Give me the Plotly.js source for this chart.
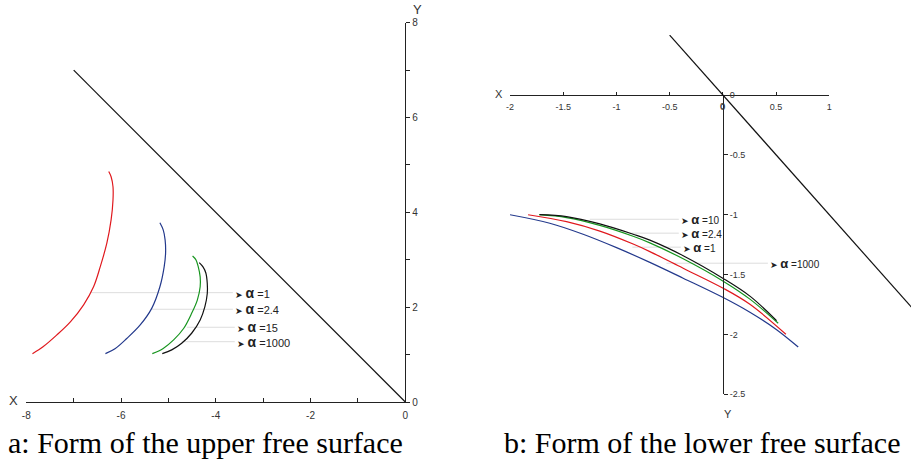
<!DOCTYPE html>
<html>
<head>
<meta charset="utf-8">
<script src="https://cdn.plot.ly/plotly-3.0.1.min.js"></script>
<style>html,body{margin:0;padding:0;background:#fff;}#chart{width:911px;height:466px;}</style>
</head>
<body>
<div id="chart"></div>
<script>
// ---------- Panel a: upper free surface ----------
const aRedX   = [-7.87,-7.64,-7.36,-7.07,-6.79,-6.58,-6.44,-6.30,-6.21,-6.17,-6.17,-6.21,-6.26];
const aRedY   = [1.02,1.17,1.41,1.69,2.05,2.43,2.85,3.35,3.84,4.26,4.54,4.75,4.86];
const aBlueX  = [-6.33,-6.12,-5.88,-5.60,-5.35,-5.18,-5.09,-5.06,-5.07,-5.11,-5.18];
const aBlueY  = [1.02,1.13,1.34,1.62,1.98,2.43,2.85,3.14,3.42,3.63,3.78];
const aGreenX = [-5.34,-5.11,-4.89,-4.68,-4.51,-4.39,-4.33,-4.33,-4.37,-4.42,-4.49];
const aGreenY = [1.02,1.13,1.31,1.55,1.87,2.15,2.43,2.64,2.85,3.00,3.08];
const aBlackX = [-5.13,-4.93,-4.72,-4.51,-4.33,-4.23,-4.18,-4.18,-4.21,-4.27,-4.35];
const aBlackY = [1.02,1.10,1.24,1.45,1.73,2.01,2.29,2.50,2.72,2.85,2.94];
const aWallX  = [-7, 0];
const aWallY  = [7, 0];
const aLabelText   = ['=1', '=2.4', '=15', '=1000'];
const aLabelY      = [2.306, 1.956, 1.576, 1.272];
const aLeaderStart = [-6.65, -5.35, -4.61, -4.72];
const aLeaderEnd   = [-3.64, -3.64, -3.60, -3.60];
const aXTickVals = [-8, -6, -4, -2, 0];
const aXTickText = ['-8', '-6', '-4', '-2', '0'];
const aXMinor    = [-7, -5, -3, -1];
const aYTickVals = [0, 2, 4, 6, 8];
const aYTickText = ['0', '2', '4', '6', '8'];
const aYMinor    = [1, 3, 5, 7];

// ---------- Panel b: lower free surface ----------
const bBlueX  = [-2.00,-1.626,-1.313,-0.999,-0.686,-0.373,0.003,0.254,0.505,0.708];
const bBlueY  = [-1.00,-1.071,-1.163,-1.275,-1.398,-1.530,-1.692,-1.815,-1.960,-2.105];
const bRedX   = [-1.83,-1.469,-1.156,-0.843,-0.686,-0.373,0.003,0.254,0.592];
const bRedY   = [-1.00,-1.058,-1.137,-1.245,-1.308,-1.447,-1.614,-1.748,-1.998];
const bGreenX = [-1.727,-1.469,-1.156,-0.843,-0.686,-0.373,0.003,0.254,0.520];
const bGreenY = [-1.00,-1.024,-1.089,-1.180,-1.235,-1.368,-1.555,-1.705,-1.906];
const bBlackX = [-1.72,-1.469,-1.156,-0.843,-0.686,-0.373,0.003,0.254,0.505];
const bBlackY = [-1.00,-1.016,-1.077,-1.163,-1.212,-1.342,-1.532,-1.680,-1.885];
const bWallX  = [-0.5, 2];
const bWallY  = [0.5, -2];
const bLabelText   = ['=10', '=2.4', '=1', '=1000'];
const bLabelY      = [-1.038, -1.154, -1.271, -1.405];
const bLeaderStart = [-1.25, -0.87, -0.85, -0.53];
const bLeaderEnd   = [-0.414, -0.414, -0.395, 0.423];
const bXTickVals = [-2, -1.5, -1, -0.5, 0, 0.5, 1];
const bXTickText = ['-2', '-1.5', '-1', '-0.5', '0', '0.5', '1'];
const bYTickVals = [-2.5, -2, -1.5, -1, -0.5, 0];
const bYTickText = ['-2.5', '-2', '-1.5', '-1', '-0.5', '0'];

const captionA = 'a: Form of the upper free surface';
const captionB = 'b: Form of the lower free surface';

// ---------- styles ----------
const RED = '#e0191e', BLUE = '#23398c', GREEN = '#17951f', BLACK = '#111111', LEAD = '#dddddd';
const SANS = 'Liberation Sans, Arial, DejaVu Sans, sans-serif';
const W = 911, H = 466;

function curve(x, y, color, xa, ya) {
  return {x: x, y: y, xaxis: xa, yaxis: ya, mode: 'lines', type: 'scatter',
          line: {color: color, width: 1.2, shape: 'spline', smoothing: 1},
          hoverinfo: 'skip', showlegend: false};
}
function leader(x0, x1, y, xa, ya) {
  return {x: [x0, x1], y: [y, y], xaxis: xa, yaxis: ya, mode: 'lines', type: 'scatter',
          line: {color: LEAD, width: 1}, hoverinfo: 'skip', showlegend: false};
}

const traces = [];
aLabelY.forEach((y, i) => traces.push(leader(aLeaderStart[i], aLeaderEnd[i], y, 'x', 'y')));
bLabelY.forEach((y, i) => traces.push(leader(bLeaderStart[i], bLeaderEnd[i], y, 'x2', 'y2')));
traces.push(curve(aWallX, aWallY, BLACK, 'x', 'y'));
traces.push(curve(aRedX, aRedY, RED, 'x', 'y'));
traces.push(curve(aBlueX, aBlueY, BLUE, 'x', 'y'));
traces.push(curve(aGreenX, aGreenY, GREEN, 'x', 'y'));
traces.push(curve(aBlackX, aBlackY, BLACK, 'x', 'y'));
traces.push(curve(bBlueX, bBlueY, BLUE, 'x2', 'y2'));
traces.push(curve(bRedX, bRedY, RED, 'x2', 'y2'));
traces.push(curve(bGreenX, bGreenY, GREEN, 'x2', 'y2'));
traces.push(curve(bBlackX, bBlackY, BLACK, 'x2', 'y2'));
traces.push(curve(bWallX, bWallY, BLACK, 'x3', 'y3'));

function labelAnn(x, y, txt, xa, ya, aSize, tSize) {
  return {x: x, y: y, xref: xa, yref: ya, xanchor: 'left', yanchor: 'middle', showarrow: false,
          xshift: 0,
          text: '<span style="font-size:9px">➤</span> <b><span style="font-size:' + aSize + 'px">α</span></b> ' + txt,
          font: {family: SANS, size: tSize, color: '#222'}};
}

const annotations = [];
aLabelY.forEach((y, i) => annotations.push(labelAnn(aLeaderEnd[i], y, aLabelText[i], 'x', 'y', 14, 11)));
bLabelY.forEach((y, i) => annotations.push(labelAnn(bLeaderEnd[i], y, bLabelText[i], 'x2', 'y2', 13, 10)));

// x tick label "0" of panel b sits on the crossing of both axes; draw it explicitly
const zeroIdx = bXTickVals.indexOf(0);
annotations.push({x: bXTickVals[zeroIdx], y: 0, xref: 'x2', yref: 'y2', xanchor: 'center', yanchor: 'top',
  yshift: -4, showarrow: false, text: bXTickText[zeroIdx], font: {family: SANS, size: 9, color: '#333'}});

function px(xp) { return xp / W; }
function py(yp) { return 1 - yp / H; }
function axLabel(t, xp, yp, size) {
  return {x: px(xp), y: py(yp), xref: 'paper', yref: 'paper', xanchor: 'center', yanchor: 'middle',
          showarrow: false, text: t, font: {family: SANS, size: size, color: '#333'}};
}
annotations.push(axLabel('X', 13, 400, 13));
annotations.push(axLabel('Y', 417, 10, 13));
annotations.push(axLabel('X', 499, 94, 11));
annotations.push(axLabel('Y', 728, 414, 11));
annotations.push({x: px(205), y: py(442), xref: 'paper', yref: 'paper', xanchor: 'center', yanchor: 'middle',
  showarrow: false, text: captionA, font: {family: 'Liberation Serif, Times New Roman, serif', size: 30, color: '#000'}});
annotations.push({x: px(702), y: py(442), xref: 'paper', yref: 'paper', xanchor: 'center', yanchor: 'middle',
  showarrow: false, text: captionB, font: {family: 'Liberation Serif, Times New Roman, serif', size: 30, color: '#000'}});

const axBase = {showgrid: false, zeroline: false, showline: true, linecolor: '#222', linewidth: 1,
  tickcolor: '#222', tickwidth: 1, fixedrange: true, tickmode: 'array'};

const layout = {
  width: W, height: H, margin: {l: 0, r: 0, t: 0, b: 0}, paper_bgcolor: '#fff', plot_bgcolor: 'rgba(0,0,0,0)',
  showlegend: false, hovermode: false,
  xaxis: Object.assign({}, axBase, {domain: [px(26.3), px(405.3)], range: [-8, 0], anchor: 'y',
    tickvals: aXTickVals, ticktext: aXTickText, ticks: 'inside', ticklen: 4, ticklabelstandoff: 4,
    minor: {tickmode: 'array', tickvals: aXMinor, ticks: 'inside', ticklen: 4, tickcolor: '#222', showgrid: false},
    tickfont: {family: SANS, size: 10, color: '#333'}}),
  yaxis: Object.assign({}, axBase, {domain: [py(402), py(22.7)], range: [0, 8], anchor: 'x', side: 'right',
    tickvals: aYTickVals, ticktext: aYTickText, ticks: 'outside', ticklen: 4,
    minor: {tickmode: 'array', tickvals: aYMinor, ticks: 'outside', ticklen: 4, tickcolor: '#222', showgrid: false},
    tickfont: {family: SANS, size: 10, color: '#333'}}),
  xaxis2: Object.assign({}, axBase, {domain: [px(510), px(829.3)], range: [-2, 1], anchor: 'free',
    position: py(95), side: 'bottom', ticklabelstandoff: 3,
    tickvals: bXTickVals, ticktext: bXTickText, ticks: 'inside', ticklen: 3,
    tickfont: {family: SANS, size: 9, color: '#333'}}),
  yaxis2: Object.assign({}, axBase, {domain: [py(394.3), py(95)], range: [-2.5, 0], anchor: 'free',
    position: px(723), side: 'right',
    tickvals: bYTickVals, ticktext: bYTickText, ticks: 'outside', ticklen: 4,
    tickfont: {family: SANS, size: 9, color: '#333'}}),
  xaxis3: {domain: [px(510), 1], range: [-2, -2 + (911 - 510) / ((829.3 - 510) / 3)], anchor: 'y3',
    visible: false, fixedrange: true},
  yaxis3: {domain: [py(394.3), py(35)], range: [-2.5, -2.5 + (394.3 - 35) / ((394.3 - 95) / 2.5)], anchor: 'x3',
    visible: false, fixedrange: true},
  annotations: annotations
};

Plotly.newPlot('chart', traces, layout, {displayModeBar: false, staticPlot: true});
</script>
</body>
</html>
